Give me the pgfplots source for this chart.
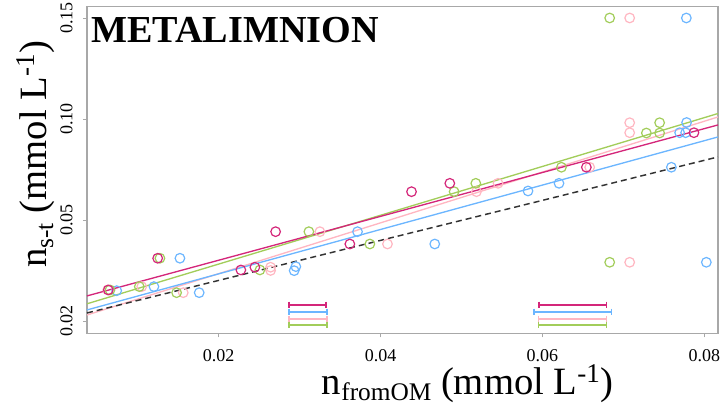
\documentclass[border=0pt]{standalone}
\usepackage{pgfplots}
\pgfplotsset{compat=1.18}
\usepackage{fontspec}
\setmainfont{Liberation Serif}
\definecolor{cMag}{HTML}{D4267A}
\definecolor{cBlue}{HTML}{6CB6FF}
\definecolor{cPink}{HTML}{FFB6C1}
\definecolor{cGreen}{HTML}{A2CD5A}
\definecolor{cFrame}{HTML}{A8A8A8}
\newcommand{\lab}[1]{\fontsize{29}{34}\selectfont #1}
\newcommand{\sub}[1]{\raisebox{-0.16em}{\fontsize{19}{20}\selectfont #1}}
\begin{document}
\begin{tikzpicture}
\begin{axis}[
  scale only axis, width=473.25pt, height=244.95pt,
  xmin=0.00374, xmax=0.08169, ymin=-0.122, ymax=3.112,
  scaled x ticks=false, scaled y ticks=false,
  xtick={0.02,0.04,0.06,0.08}, xticklabels={0.02,0.04,0.06,0.08},
  ytick={0,1,2,3}, yticklabels={0.02,0.05,0.10,0.15},
  tick pos=left, tick align=outside, major tick length=3pt,
  tick style={cFrame, line width=0.6pt},
  axis line style={cFrame, line width=0.8pt},
  ticklabel style={font=\fontsize{13.5}{16}\selectfont},
  xticklabel style={anchor=north, inner sep=0pt, inner ysep=8.8pt},
  yticklabel style={rotate=90, anchor=south, inner sep=0pt, inner ysep=7.5pt},
  xlabel={\lab{n\sub{fromOM} (mmol L\textsuperscript{-1})}},
  ylabel={\lab{n\sub{s-t} (mmol L\textsuperscript{-1})}},
  xlabel style={at={(rel axis cs:0.372,0)}, anchor=base west, inner sep=0pt, yshift=-46pt},
  ylabel style={at={(rel axis cs:0,0.2)}, anchor=base west, inner sep=0pt, yshift=30pt},
  every axis plot/.append style={line width=1pt},
  mk/.style={only marks, mark=o, mark size=3.6pt, mark options={line width=0.9pt}},
]
% regression lines
\addplot[cPink] coordinates {(0.00374,0.059) (0.08169,2.020)};
\addplot[cBlue] coordinates {(0.00374,0.109) (0.08169,1.822)};
\addplot[cGreen] coordinates {(0.00374,0.170) (0.08169,2.054)};
\addplot[cMag] coordinates {(0.00374,0.248) (0.08169,1.941)};
\addplot[black!80, dash pattern=on 4.5pt off 3pt, line width=1.1pt] coordinates {(0.00374,0.079) (0.08169,1.624)};
% points
\addplot[mk, cPink] coordinates {
(0.0063,0.307) (0.0105,0.340) (0.01563,0.280) (0.02642,0.532) (0.02642,0.500)
(0.03251,0.884) (0.04086,0.762) (0.05185,1.280) (0.05452,1.363) (0.06584,1.522)
(0.07078,3.0) (0.07078,1.963) (0.07078,1.864) (0.07078,0.581)};
\addplot[mk, cBlue] coordinates {
(0.00741,0.300) (0.01201,0.340) (0.01522,0.621) (0.0176,0.280) (0.02933,0.498)
(0.02954,0.538) (0.03716,0.884) (0.0467,0.762) (0.05822,1.287) (0.06205,1.363)
(0.07593,1.522) (0.07695,1.864) (0.07769,1.864) (0.07781,1.965) (0.07778,3.0)
(0.08025,0.581)};
\addplot[mk, cGreen] coordinates {
(0.00658,0.307) (0.0102,0.340) (0.01275,0.621) (0.01481,0.280) (0.0251,0.505)
(0.03115,0.884) (0.03868,0.762) (0.04909,1.280) (0.05177,1.363) (0.06235,1.522)
(0.06831,3.0) (0.06831,0.581) (0.07284,1.861) (0.07448,1.963) (0.07448,1.861)};
\addplot[mk, cMag] coordinates {
(0.00637,0.307) (0.01247,0.621) (0.02275,0.505) (0.02448,0.532) (0.02704,0.884)
(0.03621,0.762) (0.04383,1.280) (0.04856,1.363) (0.06543,1.522) (0.07872,1.864)};
% interval bars
\addplot[cMag, mark=|, mark size=2.5pt] coordinates {(0.02868,0.158) (0.03328,0.158)};
\addplot[cBlue, mark=|, mark size=2.5pt] coordinates {(0.02868,0.089) (0.03337,0.089)};
\addplot[cPink, mark=|, mark size=2.5pt] coordinates {(0.02868,0.020) (0.03337,0.020)};
\addplot[cGreen, mark=|, mark size=2.5pt] coordinates {(0.02868,-0.040) (0.03337,-0.040)};
\addplot[cMag, mark=|, mark size=2.5pt] coordinates {(0.05958,0.158) (0.06794,0.158)};
\addplot[cBlue, mark=|, mark size=2.5pt] coordinates {(0.05896,0.089) (0.06852,0.089)};
\addplot[cPink, mark=|, mark size=2.5pt] coordinates {(0.05954,0.020) (0.06794,0.020)};
\addplot[cGreen, mark=|, mark size=2.5pt] coordinates {(0.05954,-0.040) (0.06794,-0.040)};
\node[anchor=base west, inner sep=0pt, xshift=3pt, yshift=-27.2pt,
  font=\bfseries\fontsize{28.6}{30}\selectfont] at (rel axis cs:0,1) {METALIMNION};
\coordinate (ll) at (rel axis cs:0,0);
\coordinate (ur) at (rel axis cs:1,1);
\end{axis}
\pgfresetboundingbox
\path ([shift={(-65.25pt,-56.8pt)}]ll) rectangle ([shift={(2.25pt,5pt)}]ur);
\end{tikzpicture}
\end{document}
